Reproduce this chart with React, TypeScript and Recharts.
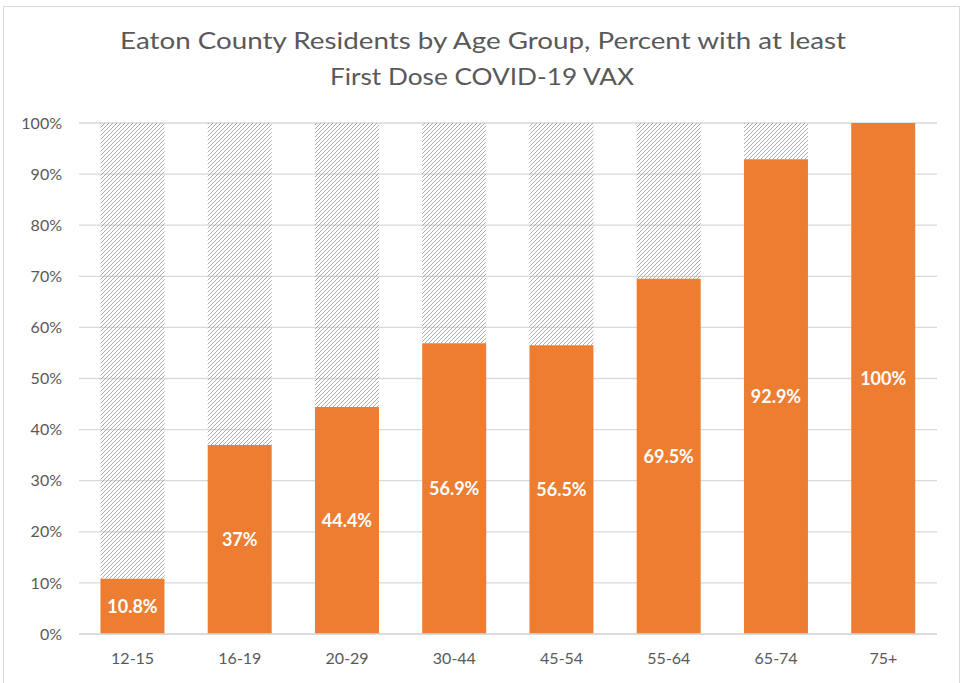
import React from 'react';
import { BarChart, Bar, XAxis, YAxis, CartesianGrid, LabelList } from 'recharts';

const ageGroups = ['12-15', '16-19', '20-29', '30-44', '45-54', '55-64', '65-74', '75+'];
const vaccinatedPct = [10.8, 37, 44.4, 56.9, 56.5, 69.5, 92.9, 100];
const remainingPct = [89.2, 63, 55.6, 43.1, 43.5, 30.5, 7.1, 0];
const yTicks = [0, 10, 20, 30, 40, 50, 60, 70, 80, 90, 100];
const titleLines = ['Eaton County Residents by Age Group, Percent with at least', 'First Dose COVID-19 VAX'];

const data = ageGroups.map((g, i) => ({ group: g, vax: vaccinatedPct[i], rest: remainingPct[i] }));

const FONT = 'Lato, "Open Sans", sans-serif';
const TEXT = '#595959';
const GRID = '#d9d9d9';

export default function App() {
  return (
    <div style={{ position: 'absolute', left: 0, top: 0, width: 966, height: 683, background: '#fff', overflow: 'hidden' }}>
      <div style={{ position: 'absolute', left: 3, top: 6, width: 957, height: 700, border: '1.5px solid #d9d9d9', boxSizing: 'border-box' }} />
      <svg width={966} height={110} style={{ position: 'absolute', left: 0, top: 0 }}>
        <text x={483} y={49} textAnchor="middle" fontFamily={FONT} fontSize={24} fill={TEXT} textLength={726} lengthAdjust="spacingAndGlyphs">{titleLines[0]}</text>
        <text x={482} y={85} textAnchor="middle" fontFamily={FONT} fontSize={24} fill={TEXT} textLength={304} lengthAdjust="spacingAndGlyphs">{titleLines[1]}</text>
      </svg>
      <div style={{ position: 'absolute', left: 0, top: 0 }}>
        <BarChart width={966} height={683} data={data} margin={{ top: 123, right: 29, bottom: 19, left: 0 }} barCategoryGap="20%">
          <defs>
            <pattern id="hatch" patternUnits="userSpaceOnUse" width={4} height={4}>
              <path d="M-1,1 l2,-2 M0,4 l4,-4 M3,5 l2,-2" stroke="#a3a3a3" strokeWidth={0.9} />
            </pattern>
          </defs>
          <CartesianGrid vertical={false} stroke={GRID} strokeWidth={1.3} />
          <XAxis dataKey="group" height={30} axisLine={{ stroke: GRID, strokeWidth: 1.3 }} tickLine={false} tickSize={0} tickMargin={19}
            tick={{ fill: TEXT, fontSize: 16, fontFamily: FONT }} />
          <YAxis width={79} domain={[0, 100]} ticks={yTicks} interval={0} axisLine={false} tickLine={false} tickSize={0} tickMargin={17}
            tickFormatter={(v: number) => `${v}%`} tick={{ fill: TEXT, fontSize: 16, fontFamily: FONT }} />
          <Bar dataKey="vax" stackId="a" fill="#ED7D31" isAnimationActive={false}>
            <LabelList dataKey="vax" position="center" formatter={(v: any) => `${v}%`} fill="#ffffff" fontSize={18} fontWeight="bold" fontFamily={FONT} />
          </Bar>
          <Bar dataKey="rest" stackId="a" fill="url(#hatch)" isAnimationActive={false} />
        </BarChart>
      </div>
    </div>
  );
}
